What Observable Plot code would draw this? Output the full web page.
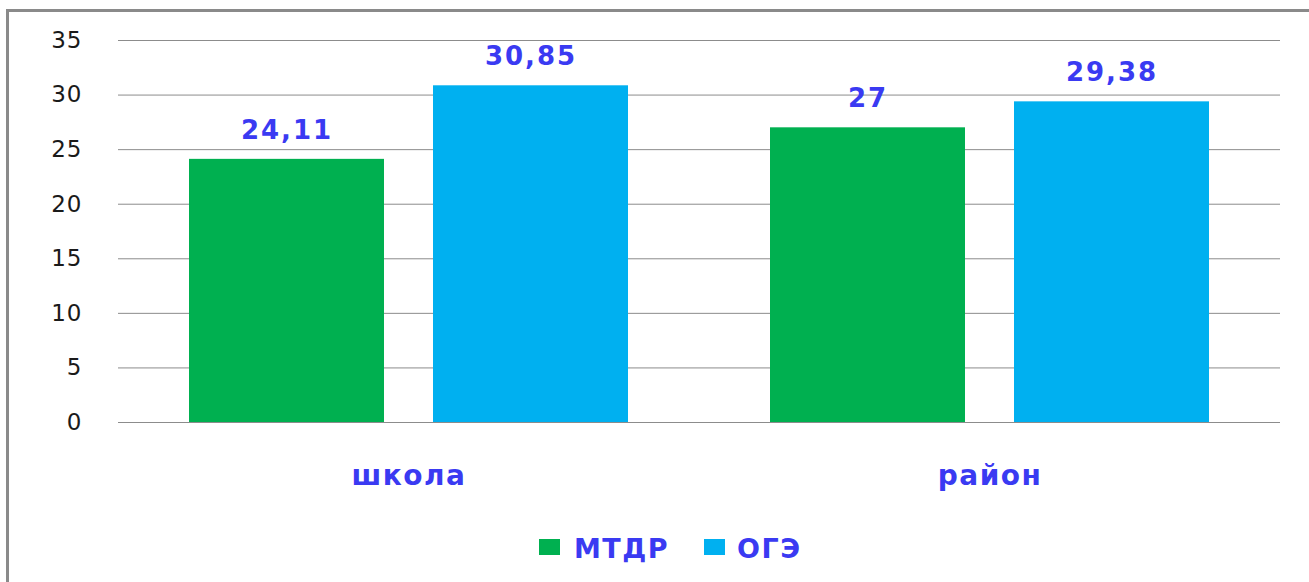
<!DOCTYPE html>
<html>
<head>
<meta charset="utf-8">
<script src="https://cdn.jsdelivr.net/npm/d3@7"></script>
<script src="https://cdn.jsdelivr.net/npm/@observablehq/plot@0.6"></script>
<style>
  html, body { margin: 0; padding: 0; background: #fff; overflow: hidden; }
  #wrap { position: relative; width: 1309px; height: 582px; overflow: hidden; background: #fff; }
  #frame { position: absolute; left: 6px; top: 9px; width: 1400px; height: 700px; border: 3px solid #8a8a8a; box-sizing: border-box; }
  #chart { position: absolute; left: 0; top: 0; }
  g[aria-label="y-axis tick label"] text { letter-spacing: 1px; }
  g[aria-label="fx-axis tick label"] text { letter-spacing: 1.5px; }
  g[aria-label="text"] text { letter-spacing: 2px; }
  .lg-sw { position: absolute; width: 21px; height: 16px; }
  .lg-tx { position: absolute; font-family: "DejaVu Sans", sans-serif; font-weight: bold; font-size: 27px; line-height: 27px; color: #3a3af2; letter-spacing: 1.5px; white-space: nowrap; }
</style>
</head>
<body>
<div id="wrap">
  <div id="frame"></div>
  <div id="chart"></div>
  <div id="legend"></div>
</div>
<script>
const categories = ["школа", "район"];
const seriesNames = ["МТДР", "ОГЭ"];
const seriesColors = ["#00B050", "#00B0F0"];
const mtdrValues = [24.11, 27];
const ogeValues = [30.85, 29.38];
const yTicks = [0, 5, 10, 15, 20, 25, 30, 35];

const data = [];
categories.forEach((c, i) => {
  data.push({cat: c, series: seriesNames[0], value: mtdrValues[i]});
  data.push({cat: c, series: seriesNames[1], value: ogeValues[i]});
});
const fmt = v => String(v).replace(".", ",");

const labelBlue = "#3a3af2";

const plot = Plot.plot({
  width: 1309,
  height: 500,
  marginLeft: 118,
  marginRight: 29,
  marginTop: 40,
  marginBottom: 78,
  style: {fontFamily: "DejaVu Sans, sans-serif", background: "transparent"},
  fx: {domain: categories, padding: 0, axis: "bottom", label: null, tickSize: 0, tickPadding: 43},
  x: {domain: seriesNames, paddingInner: 0.2, paddingOuter: 0.29, axis: null},
  y: {domain: [0, 35], ticks: yTicks, tickSize: 0, tickPadding: 36, label: null},
  color: {domain: seriesNames, range: seriesColors},
  marks: [
    Plot.gridY(yTicks, {stroke: "#8c8c8c", strokeOpacity: 1, strokeWidth: 1}),
    Plot.barY(data, {fx: "cat", x: "series", y: "value", fill: "series"}),
    Plot.text(data, {fx: "cat", x: "series", y: "value", text: d => fmt(d.value), dy: -29, fill: labelBlue, fontSize: 26, fontWeight: "bold"})
  ]
});
document.getElementById("chart").appendChild(plot);

// style axis labels
plot.querySelectorAll('g[aria-label="y-axis tick label"]').forEach(g => {
  g.setAttribute("font-size", 23);
  g.setAttribute("fill", "#1a1a1a");
});
plot.querySelectorAll('g[aria-label="fx-axis tick label"]').forEach(g => {
  g.setAttribute("font-size", 28);
  g.setAttribute("font-weight", "bold");
  g.setAttribute("fill", labelBlue);
});

// legend
const legend = document.getElementById("legend");
const lgPos = [{sw: 539, tx: 574}, {sw: 704, tx: 737}];
seriesNames.forEach((s, i) => {
  const sw = document.createElement("div");
  sw.className = "lg-sw";
  sw.style.left = lgPos[i].sw + "px";
  sw.style.top = "539px";
  sw.style.background = seriesColors[i];
  legend.appendChild(sw);
  const tx = document.createElement("div");
  tx.className = "lg-tx";
  tx.style.left = lgPos[i].tx + "px";
  tx.style.top = "535px";
  tx.textContent = s;
  legend.appendChild(tx);
});
</script>
</body>
</html>
